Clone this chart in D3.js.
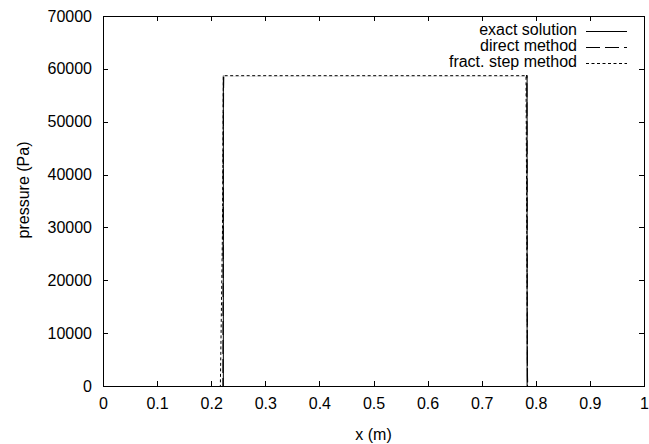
<!DOCTYPE html>
<html>
<head>
<meta charset="utf-8">
<script src="https://cdn.jsdelivr.net/npm/d3@7"></script>
<style>
  html, body { margin: 0; padding: 0; background: #fff; }
  svg { display: block; font-family: "Liberation Sans", Arial, sans-serif; }
</style>
</head>
<body>
<svg id="chart" width="649" height="444"></svg>
<script>
// ---- data ----
const xTicks = [0, 0.1, 0.2, 0.3, 0.4, 0.5, 0.6, 0.7, 0.8, 0.9, 1];
const yTicks = [0, 10000, 20000, 30000, 40000, 50000, 60000, 70000];
const seriesNames = ["exact solution", "direct method", "fract. step method"];
const exactX = [0, 0.2215, 0.2215, 0.7830, 0.7830, 1];
const exactY = [0, 0, 58800, 58800, 0, 0];
const directX = [0, 0.2208, 0.2210, 0.2212, 0.2214, 0.2218, 0.2222, 0.7825, 0.7830, 0.7833, 0.7836, 0.7840, 1];
const directY = [0, 0, 12000, 27000, 45000, 56000, 58800, 58800, 40000, 16000, 2000, 0, 0];
const fractX = [0, 0.2160, 0.2200, 0.2215, 0.7810, 0.7838, 1];
const fractY = [0, 0, 30000, 58800, 58800, 0, 0];

// ---- layout ----
const m = { left: 103, top: 16, right: 644, bottom: 386 };
const svg = d3.select("#chart");
const x = d3.scaleLinear().domain([0, 1]).range([m.left, m.right]);
const y = d3.scaleLinear().domain([0, 70000]).range([m.bottom, m.top]);
const fs = 16;

// lines (drawn first, offset half a pixel for crisp 1px strokes)
const line = d3.line().x(d => x(d[0])).y(d => y(d[1]));
const exact = d3.zip(exactX, exactY);
const direct = d3.zip(directX, directY);
const fract = d3.zip(fractX, fractY);
const dashes = [null, "14,5", "3,2.5"];

const plot = svg.append("g").attr("transform", "translate(0.5,0.5)");
plot.append("path").datum(exact).attr("d", line)
  .attr("fill", "none").attr("stroke", "#000").attr("stroke-width", 1);
plot.append("path").datum(direct).attr("d", line)
  .attr("fill", "none").attr("stroke", "#000").attr("stroke-width", 1.2)
  .attr("stroke-dasharray", dashes[1]);
// white underlay so fract. step line shows as dashed where lines coincide
plot.append("path").datum(fract.slice(3, 5)).attr("d", line)
  .attr("fill", "none").attr("stroke", "#fff").attr("stroke-width", 2);
plot.append("path").datum(fract).attr("d", line)
  .attr("fill", "none").attr("stroke", "#000").attr("stroke-width", 1)
  .attr("stroke-dasharray", dashes[2]);

// frame
svg.append("rect").attr("x", m.left + 0.5).attr("y", m.top + 0.5)
  .attr("width", m.right - m.left).attr("height", m.bottom - m.top)
  .attr("fill", "none").attr("stroke", "#000").attr("stroke-width", 1);

// axes with inward ticks (mirrored)
const tl = 5;
const gx = svg.append("g").attr("transform", `translate(0,${m.bottom})`)
  .call(d3.axisBottom(x).tickValues(xTicks).tickSizeInner(-tl).tickSizeOuter(0)
    .tickPadding(12).tickFormat(d => d3.format("")(d)));
const gxt = svg.append("g").attr("transform", `translate(0,${m.top})`)
  .call(d3.axisTop(x).tickValues(xTicks).tickSizeInner(-tl).tickSizeOuter(0).tickFormat(""));
const gy = svg.append("g").attr("transform", `translate(${m.left},0)`)
  .call(d3.axisLeft(y).tickValues(yTicks).tickSizeInner(-tl).tickSizeOuter(0)
    .tickPadding(11).tickFormat(d3.format("d")));
const gyr = svg.append("g").attr("transform", `translate(${m.right},0)`)
  .call(d3.axisRight(y).tickValues(yTicks).tickSizeInner(-tl).tickSizeOuter(0).tickFormat(""));
[gx, gxt, gy, gyr].forEach(g => {
  g.select(".domain").remove();
  g.selectAll("line").attr("stroke", "#000").attr("shape-rendering", "crispEdges");
  g.selectAll("text").attr("font-size", fs).attr("fill", "#000")
    .attr("font-family", "Liberation Sans, Arial, sans-serif");
});
gx.selectAll("text").attr("dy", "0.71em");

// axis titles
svg.append("text").attr("x", (m.left + m.right) / 2).attr("y", 436)
  .attr("text-anchor", "middle").attr("dominant-baseline", "middle")
  .attr("font-size", fs).text("x (m)");
svg.append("text").attr("transform", `translate(25,${190}) rotate(-90)`)
  .attr("text-anchor", "middle").attr("dominant-baseline", "middle")
  .attr("font-size", fs).text("pressure (Pa)");

// legend
const legY = [31, 47, 63];
const lg = svg.append("g");
seriesNames.forEach((name, i) => {
  lg.append("text").attr("x", 577).attr("y", legY[i])
    .attr("text-anchor", "end").attr("dominant-baseline", "middle")
    .attr("font-size", fs).text(name);
  lg.append("line").attr("x1", 586).attr("x2", 627)
    .attr("y1", legY[i] + 0.5).attr("y2", legY[i] + 0.5)
    .attr("stroke", "#000").attr("stroke-width", 1)
    .attr("stroke-dasharray", dashes[i]);
});
</script>
</body>
</html>
